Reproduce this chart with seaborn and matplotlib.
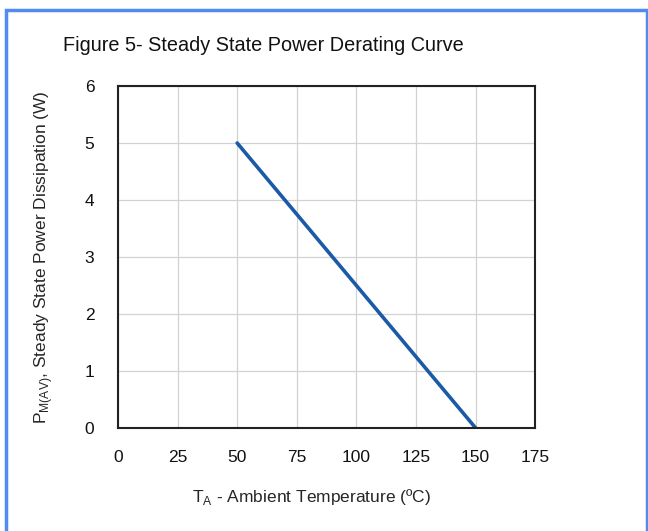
import pandas as pd
import seaborn as sns
import matplotlib.pyplot as plt
from matplotlib.patches import Rectangle

# Data
temp_c = [50, 150]
power_w = [5, 0]
x_ticks = [0, 25, 50, 75, 100, 125, 150, 175]
y_ticks = [0, 1, 2, 3, 4, 5, 6]

df = pd.DataFrame({"temp": temp_c, "power": power_w})

sns.set_style("white")
plt.rcParams["font.family"] = ["Liberation Sans", "DejaVu Sans"]
plt.rcParams["mathtext.fontset"] = "custom"
plt.rcParams["mathtext.rm"] = "Liberation Sans"

fig = plt.figure(figsize=(6.48, 5.31), dpi=100)
ax = fig.add_axes([0.182, 0.194, 0.644, 0.644])

sns.lineplot(data=df, x="temp", y="power", color="#1a5aa6", linewidth=2.6, ax=ax)

ax.set_xlim(0, 175)
ax.set_ylim(0, 6)
ax.set_xticks(x_ticks)
ax.set_yticks(y_ticks)
ax.grid(True, color="#d2d2d2", linewidth=0.9)
ax.set_axisbelow(True)
for s in ax.spines.values():
    s.set_color("#222222")
    s.set_linewidth(1.5)
ax.tick_params(axis="both", direction="out", length=4, width=1, color="#888888",
               labelsize=12.5, labelcolor="#111111")
ax.tick_params(axis="y", pad=13)
ax.tick_params(axis="x", pad=12)

ax.set_xlabel(r"T$_\mathregular{A}$ - Ambient Temperature (ºC)", fontsize=12.5)
ax.xaxis.set_label_coords(0.463, -0.172)
ax.set_ylabel(r"P$_\mathregular{M(AV)}$, Steady State Power Dissipation (W)", fontsize=12.5, labelpad=21)

# title sits a bit left of the plot centre
fig.text(0.407, 0.915, "Figure 5- Steady State Power Derating Curve", fontsize=14.3,
         ha="center", va="center", color="#111111")

# blue frame around the figure (bottom edge falls outside the image)
fig.patches.append(Rectangle((0.0085, -0.05), 0.9892, 1.031, transform=fig.transFigure,
                             fill=False, edgecolor="#4f8bf0", linewidth=2.5))

fig.savefig("out.png", dpi=100)
